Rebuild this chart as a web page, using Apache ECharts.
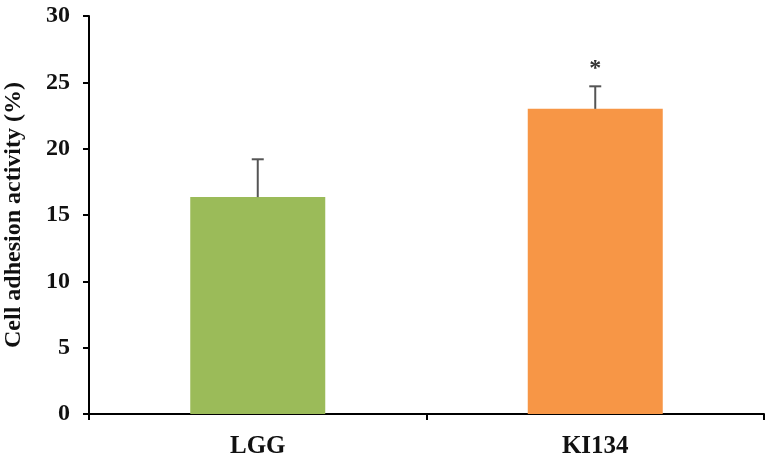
<!DOCTYPE html>
<html>
<head>
<meta charset="utf-8">
<script src="https://cdn.jsdelivr.net/npm/echarts@6/dist/echarts.min.js"></script>
<style>
  html, body { margin: 0; padding: 0; background: #fff; }
  #chart { width: 772px; height: 471px; }
</style>
</head>
<body>
<div id="chart"></div>
<script>
// 细胞黏附活性 - 柱状图 + 误差线
const categories = ['LGG', 'KI134'];
const means = [16.35, 23.0];
const errors = [2.85, 1.7];
const sigMarks = ['', '*'];
const barColors = ['#9BBB59', '#F79646'];
const yTicks = [0, 5, 10, 15, 20, 25, 30];

const serif = '"Liberation Serif", "Times New Roman", serif';

const chart = echarts.init(document.getElementById('chart'));

chart.setOption({
  animation: false,
  backgroundColor: '#fff',
  grid: { left: 89, right: 8, top: 16, bottom: 57, outerBoundsMode: 'none', containLabel: false },
  xAxis: {
    type: 'category',
    data: categories,
    axisLine: { lineStyle: { color: '#000', width: 2 } },
    axisTick: { show: true, length: 6, lineStyle: { color: '#000', width: 2 } },
    axisLabel: {
      color: '#111', fontFamily: serif, fontWeight: 'bold', fontSize: 25, margin: 20
    }
  },
  yAxis: {
    type: 'value',
    min: yTicks[0],
    max: yTicks[yTicks.length - 1],
    interval: 5,
    name: 'Cell adhesion activity (%)',
    nameLocation: 'middle',
    nameGap: 63,
    nameRotate: 90,
    nameTextStyle: { color: '#111', fontFamily: serif, fontWeight: 'bold', fontSize: 24 },
    axisLine: { show: true, lineStyle: { color: '#000', width: 2 } },
    axisTick: { show: true, length: 6, lineStyle: { color: '#000', width: 2 } },
    splitLine: { show: false },
    axisLabel: {
      color: '#111', fontFamily: serif, fontWeight: 'bold', fontSize: 24, margin: 19
    }
  },
  series: [
    {
      type: 'bar',
      barWidth: '40%',
      data: means.map((v, i) => ({ value: v, itemStyle: { color: barColors[i] } })),
      z: 2
    },
    {
      type: 'custom',
      z: 3,
      data: means.map((v, i) => [i, v, v + errors[i]]),
      renderItem(params, api) {
        const base = api.coord([api.value(0), api.value(1)]);
        const top = api.coord([api.value(0), api.value(2)]);
        const cap = 6;
        const children = [
          { type: 'line', shape: { x1: base[0], y1: base[1], x2: top[0], y2: top[1] },
            style: { stroke: '#555', lineWidth: 2 } },
          { type: 'line', shape: { x1: top[0] - cap, y1: top[1], x2: top[0] + cap, y2: top[1] },
            style: { stroke: '#555', lineWidth: 2 } }
        ];
        const mark = sigMarks[params.dataIndex];
        if (mark) {
          children.push({
            type: 'text',
            x: top[0], y: top[1] - 6,
            style: {
              text: mark, fill: '#333', font: 'bold 24px ' + serif,
              align: 'center', verticalAlign: 'bottom'
            }
          });
        }
        return { type: 'group', children };
      }
    }
  ]
});
</script>
</body>
</html>
